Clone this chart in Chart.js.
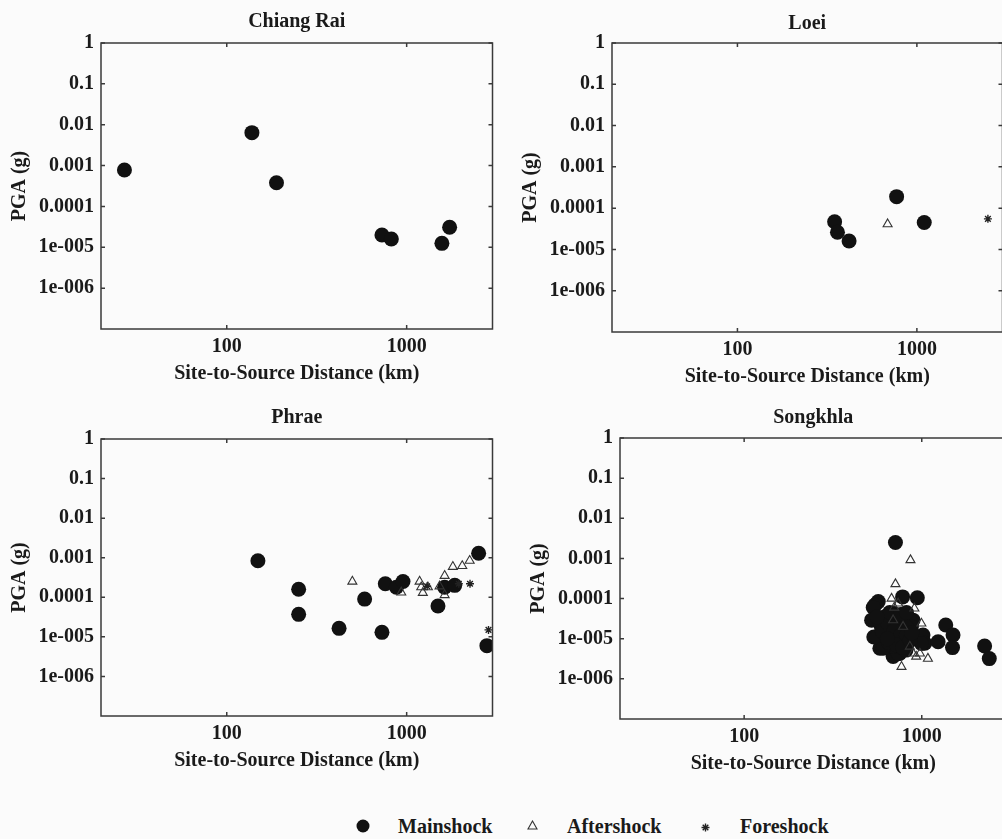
<!DOCTYPE html>
<html>
<head>
<meta charset="utf-8">
<script src="https://cdn.jsdelivr.net/npm/chart.js@4.4.0/dist/chart.umd.min.js"></script>
<style>
  body { margin: 0; background: #fbfbfb; overflow: hidden; }
  #page { position: relative; width: 1002px; height: 839px; overflow: hidden; background: #fbfbfb; }
  #page canvas { position: absolute; }
  .key { position: absolute; top: 814px; font: bold 20px "Liberation Serif", serif; line-height: 24px; color: #1a1a1a; }
  .mark { position: absolute; }
</style>
</head>
<body>
<div id="page">
  <canvas id="chiangRai"></canvas>
  <canvas id="loei"></canvas>
  <canvas id="phrae"></canvas>
  <canvas id="songkhla"></canvas>

  <svg class="mark" style="left:356px;top:819px" width="14" height="14"><circle cx="7" cy="7" r="6.5" fill="#111"/></svg>
  <div class="key" style="left:398px">Mainshock</div>
  <svg class="mark" style="left:527px;top:820px" width="11" height="10"><polygon points="5.5,1 10,9 1,9" fill="none" stroke="#333" stroke-width="1.1"/></svg>
  <div class="key" style="left:567px">Aftershock</div>
  <svg class="mark" style="left:701px;top:823px" width="9" height="9"><path d="M4.5 0.5V8.5M0.5 4.5H8.5M1.7 1.7L7.3 7.3M7.3 1.7L1.7 7.3" stroke="#222" stroke-width="1.4"/></svg>
  <div class="key" style="left:740px">Foreshock</div>
</div>

<script>
// [distance km, PGA g]
const chiangRaiMain = [[27, 7.8e-4], [138, 6.4e-3], [189, 3.8e-4], [729, 2.0e-5], [822, 1.6e-5], [1570, 1.25e-5], [1733, 3.1e-5]];
const chiangRaiAfter = [];
const chiangRaiFore = [];

const loeiMain = [[348, 4.7e-5], [361, 2.6e-5], [419, 1.6e-5], [771, 1.9e-4], [1099, 4.5e-5]];
const loeiAfter = [[687, 4.1e-5]];
const loeiFore = [[2488, 5.5e-5]];

const phraeMain = [[149, 8.4e-4], [251, 1.6e-4], [251, 3.7e-5], [421, 1.64e-5], [584, 9.0e-5], [729, 1.3e-5],
  [761, 2.2e-4], [877, 1.8e-4], [954, 2.5e-4], [1493, 6.0e-5], [1626, 1.8e-4], [1850, 2.0e-4],
  [2512, 1.3e-3], [2793, 6.0e-6]];
const phraeAfter = [[499, 2.5e-4], [933, 1.33e-4], [1180, 2.5e-4], [1205, 1.8e-4], [1230, 1.3e-4], [1312, 1.8e-4],
  [1524, 1.9e-4], [1626, 3.5e-4], [1626, 1.14e-4], [1806, 5.9e-4], [2037, 6.2e-4], [2240, 8.4e-4]];
const phraeFore = [[1300, 1.9e-4], [1950, 2.2e-4], [2250, 2.2e-4], [2850, 1.5e-5]];

const songkhlaMain = [[711, 2.5e-3], [780, 1.1e-4], [944, 1.05e-4], [569, 8.4e-5], [545, 6.9e-5], [533, 6.0e-5],
  [522, 2.9e-5], [537, 1.1e-5], [581, 5.8e-6], [690, 3.6e-6], [751, 4.3e-6], [893, 2.9e-5], [1016, 1.24e-5],
  [1040, 7.7e-6], [1236, 8.4e-6], [1365, 2.2e-5], [1500, 1.24e-5], [1490, 6.0e-6], [2259, 6.6e-6], [2400, 3.2e-6],
  [690, 4.3e-5], [661, 1.36e-5], [736, 4.3e-6], [785, 9.3e-6], [857, 2.9e-5], [875, 2.0e-5], [592, 2.0e-5],
  [751, 2.0e-5], [690, 6.4e-6], [815, 5.2e-6], [557, 1.1e-5], [607, 5.8e-6], [720, 2.9e-5], [815, 2.0e-5],
  [620, 3.5e-5], [650, 8.0e-6], [995, 7.6e-6], [600, 1.5e-5], [640, 2.5e-5], [700, 1.6e-5], [760, 1.2e-5],
  [820, 1.2e-5], [720, 7.0e-6], [780, 6.0e-6], [860, 9.0e-6], [660, 4.5e-5], [760, 4.0e-5], [820, 4.5e-5],
  [560, 3.5e-5], [880, 1.4e-5], [640, 1.0e-5]];
const songkhlaAfter = [[864, 9.1e-4], [711, 2.3e-4], [676, 1.0e-4], [736, 7.6e-5], [909, 5.7e-5], [995, 2.4e-5],
  [785, 2.0e-5], [690, 2.9e-5], [857, 6.4e-6], [893, 4.3e-6], [930, 3.6e-6], [1083, 3.2e-6], [769, 2.0e-6],
  [976, 4.3e-6], [700, 6.0e-5]];
const songkhlaFore = [];

const xTickValues = [100, 1000];
const yTickValues = [1, 0.1, 0.01, 0.001, 0.0001, 1e-5, 1e-6];
const yTickLabels = ['1', '0.1', '0.01', '0.001', '0.0001', '1e-005', '1e-006'];
const xRange = [20, 3000];
const yRange = [1e-7, 1];

Chart.defaults.font.family = '"Liberation Serif", "Times New Roman", serif';
Chart.defaults.font.size = 20;
Chart.defaults.font.weight = 'bold';
Chart.defaults.color = '#1a1a1a';

// box around the plot + small inward ticks on all four sides
const framePlugin = {
  id: 'frame',
  afterDraw(chart) {
    const { ctx, chartArea: a, scales: { x, y } } = chart;
    ctx.save();
    ctx.strokeStyle = '#3a3a3a';
    ctx.lineWidth = 1.5;
    ctx.strokeRect(a.left, a.top, a.right - a.left, a.bottom - a.top);
    ctx.beginPath();
    x.ticks.forEach(t => {
      const px = x.getPixelForValue(t.value);
      ctx.moveTo(px, a.top); ctx.lineTo(px, a.top + 4);
      ctx.moveTo(px, a.bottom); ctx.lineTo(px, a.bottom - 4);
    });
    y.ticks.forEach(t => {
      const py = y.getPixelForValue(t.value);
      ctx.moveTo(a.left, py); ctx.lineTo(a.left + 4, py);
      ctx.moveTo(a.right, py); ctx.lineTo(a.right - 4, py);
    });
    ctx.stroke();
    ctx.restore();
  }
};

const toXY = arr => arr.map(p => ({ x: p[0], y: p[1] }));

function makePanel(id, name, box, main, after, fore) {
  const canvas = document.getElementById(id);
  const left = box.left - 101;
  const top = box.top - 43;
  canvas.width = box.right + 7 - left;
  canvas.height = box.bottom + 61 - top;
  canvas.style.left = left + 'px';
  canvas.style.top = top + 'px';

  new Chart(canvas, {
    type: 'scatter',
    data: {
      datasets: [
        {
          label: 'Mainshock', data: toXY(main), order: 3,
          pointStyle: 'circle', pointRadius: 7.5,
          backgroundColor: '#111', borderColor: '#111', borderWidth: 0
        },
        {
          label: 'Aftershock', data: toXY(after), order: 2,
          pointStyle: 'triangle', pointRadius: 5.2,
          backgroundColor: 'rgba(0,0,0,0)', borderColor: '#333', borderWidth: 1.1
        },
        {
          label: 'Foreshock', data: toXY(fore), order: 1,
          pointStyle: 'star', pointRadius: 4,
          backgroundColor: '#222', borderColor: '#222', borderWidth: 1.4
        }
      ]
    },
    options: {
      responsive: false,
      animation: false,
      layout: { padding: { left: 0, right: 7, top: 0, bottom: 0 } },
      plugins: {
        legend: { display: false },
        tooltip: { enabled: false },
        title: {
          display: true,
          text: name,
          fullSize: false,
          font: { size: 20, weight: 'bold' },
          padding: { top: 43 - box.gap - 12, bottom: box.gap - 12 }
        }
      },
      scales: {
        x: {
          type: 'logarithmic',
          min: xRange[0], max: xRange[1], bounds: 'data',
          grid: { display: false, drawTicks: false },
          border: { display: false },
          afterBuildTicks: s => { s.ticks = xTickValues.map(v => ({ value: v })); },
          afterFit: s => { s.height = 61; },
          ticks: { autoSkip: false, maxRotation: 0, padding: 6, callback: v => String(v) },
          title: { display: true, text: 'Site-to-Source Distance (km)', padding: { top: 0, bottom: 4.5 } }
        },
        y: {
          type: 'logarithmic',
          min: yRange[0], max: yRange[1], bounds: 'data',
          grid: { display: false, drawTicks: false },
          border: { display: false },
          afterBuildTicks: s => { s.ticks = yTickValues.map(v => ({ value: v })); },
          afterFit: s => { s.width = 101; },
          ticks: { autoSkip: false, padding: 7, callback: v => yTickLabels[yTickValues.indexOf(v)] },
          title: { display: true, text: 'PGA (g)', padding: { top: 8, bottom: 0 } }
        }
      }
    },
    plugins: [framePlugin]
  });
}

makePanel('chiangRai', 'Chiang Rai', { left: 101, right: 493, top: 43, bottom: 329, gap: 21 }, chiangRaiMain, chiangRaiAfter, chiangRaiFore);
makePanel('loei', 'Loei', { left: 612, right: 1003, top: 43, bottom: 332, gap: 19 }, loeiMain, loeiAfter, loeiFore);
makePanel('phrae', 'Phrae', { left: 101, right: 493, top: 439, bottom: 716, gap: 21 }, phraeMain, phraeAfter, phraeFore);
makePanel('songkhla', 'Songkhla', { left: 620, right: 1007, top: 438, bottom: 719, gap: 20 }, songkhlaMain, songkhlaAfter, songkhlaFore);
</script>
</body>
</html>
